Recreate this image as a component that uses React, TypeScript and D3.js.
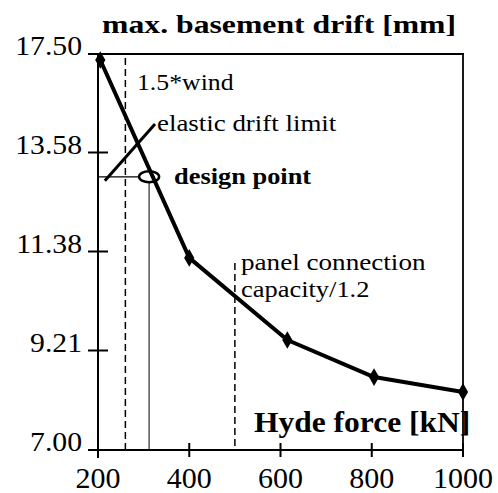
import React from "react";
import * as d3 from "d3";

const hydeForce = [205, 400, 615, 805, 1000];
const basementDrift = [17.26, 11.24, 9.44, 8.62, 8.29];
const xTickValues = [200, 400, 600, 800, 1000];
const yTickValues = [7.0, 9.21, 11.38, 13.58, 17.5];
const windForce = 260;
const windTop = 17.34;
const panelForce = 500;
const panelTop = 11.13;
const designPoint = { x: 312, y: 13.04 };
const elasticLimit = [
  { x: 215, y: 12.95 },
  { x: 325, y: 14.71 },
];
const designLineStart = 200;
const designLineEnd = 290;

const W = 498;
const H = 493;
const serif = "'Liberation Serif', 'Times New Roman', serif";

function SText({ x, y, size, bold = false, sx = 1, anchor = "start", children }: any) {
  return (
    <text
      transform={`translate(${x},${y}) scale(${sx},1)`}
      fontFamily={serif}
      fontSize={size}
      fontWeight={bold ? "bold" : "normal"}
      textAnchor={anchor}
      fill="#000"
    >
      {children}
    </text>
  );
}

export default function App() {
  const x = d3.scaleLinear().domain([200, 1000]).range([98, 463]);
  const y = d3
    .scaleLinear()
    .domain(yTickValues)
    .range([450, 350.5, 251.5, 152.5, 54]);

  const pts = hydeForce.map((v, i) => [x(v), y(basementDrift[i])] as [number, number]);
  const line = d3.line()(pts) || "";
  const diamond = d3.symbol().type(d3.symbolDiamond).size(90)() || "";

  const x0 = x(200);
  const x1 = x(1000);
  const yB = y(7);
  const yT = y(17.5);

  return (
    <svg
      width={W}
      height={H}
      style={{ position: "absolute", left: 0, top: 0, background: "#fff" }}
    >
      <rect width={W} height={H} fill="#fff" />
      {/* frame */}
      <line x1={x0} y1={yT} x2={x0} y2={yB + 8} stroke="#000" strokeWidth={2} />
      <line x1={x0 - 10} y1={yB} x2={x1} y2={yB} stroke="#000" strokeWidth={2} />
      <line x1={x0 - 10} y1={yT} x2={x1 + 1} y2={yT} stroke="#000" strokeWidth={2} />
      <line x1={x1} y1={yT} x2={x1} y2={yB + 7} stroke="#000" strokeWidth={1.8} />

      {/* y ticks */}
      {yTickValues.map((t) => (
        <g key={"yt" + t}>
          <line x1={x0 - 10} x2={x0 + 10} y1={y(t)} y2={y(t)} stroke="#000" strokeWidth={2} />
          <SText x={82} y={y(t) + 1} size={27} sx={1.1} anchor="end">
            {t.toFixed(2)}
          </SText>
        </g>
      ))}

      {/* x ticks */}
      {xTickValues.map((t) => (
        <g key={"xt" + t}>
          <line x1={x(t)} x2={x(t)} y1={yB - 7} y2={yB + 7} stroke="#000" strokeWidth={2} />
          <SText x={x(t)} y={488} size={30} sx={1} anchor="middle">
            {t}
          </SText>
        </g>
      ))}

      {/* wind dashed */}
      <line
        x1={x(windForce)}
        x2={x(windForce)}
        y1={y(windTop)}
        y2={yB}
        stroke="#000"
        strokeWidth={1.5}
        strokeDasharray="7,4"
      />
      {/* panel dashed */}
      <line
        x1={x(panelForce)}
        x2={x(panelForce)}
        y1={y(panelTop)}
        y2={yB}
        stroke="#000"
        strokeWidth={1.5}
        strokeDasharray="7,4"
      />
      {/* design point lines */}
      <line
        x1={x(designLineStart)}
        x2={x(designLineEnd)}
        y1={y(designPoint.y)}
        y2={y(designPoint.y)}
        stroke="#000"
        strokeWidth={1.3}
      />
      <line
        x1={x(designPoint.x)}
        x2={x(designPoint.x)}
        y1={y(designPoint.y) + 5}
        y2={yB}
        stroke="#000"
        strokeWidth={1}
      />
      {/* elastic limit */}
      <line
        x1={x(elasticLimit[0].x)}
        y1={y(elasticLimit[0].y)}
        x2={x(elasticLimit[1].x)}
        y2={y(elasticLimit[1].y)}
        stroke="#000"
        strokeWidth={3}
      />

      {/* data line */}
      <path d={line} fill="none" stroke="#000" strokeWidth={4} strokeLinejoin="round" />
      {pts.map((p, i) => (
        <path key={"m" + i} d={diamond} transform={`translate(${p[0]},${p[1]})`} fill="#000" />
      ))}

      {/* design point ellipse */}
      <ellipse
        cx={x(designPoint.x)}
        cy={y(designPoint.y)}
        rx={10}
        ry={5.5}
        fill="none"
        stroke="#000"
        strokeWidth={2.5}
      />

      {/* annotations */}
      <SText x={102} y={33} size={26} bold sx={1.22}>
        max. basement drift [mm]
      </SText>
      <SText x={137} y={90} size={23} sx={1.12}>
        1.5*wind
      </SText>
      <SText x={157} y={131} size={23} sx={1.17}>
        elastic drift limit
      </SText>
      <SText x={174} y={184} size={24} bold sx={1.1}>
        design point
      </SText>
      <SText x={241} y={270} size={23} sx={1.18}>
        panel connection
      </SText>
      <SText x={241} y={297} size={23} sx={1.15}>
        capacity/1.2
      </SText>
      <SText x={254} y={432} size={30} bold sx={1.05}>
        Hyde force [kN]
      </SText>
    </svg>
  );
}
